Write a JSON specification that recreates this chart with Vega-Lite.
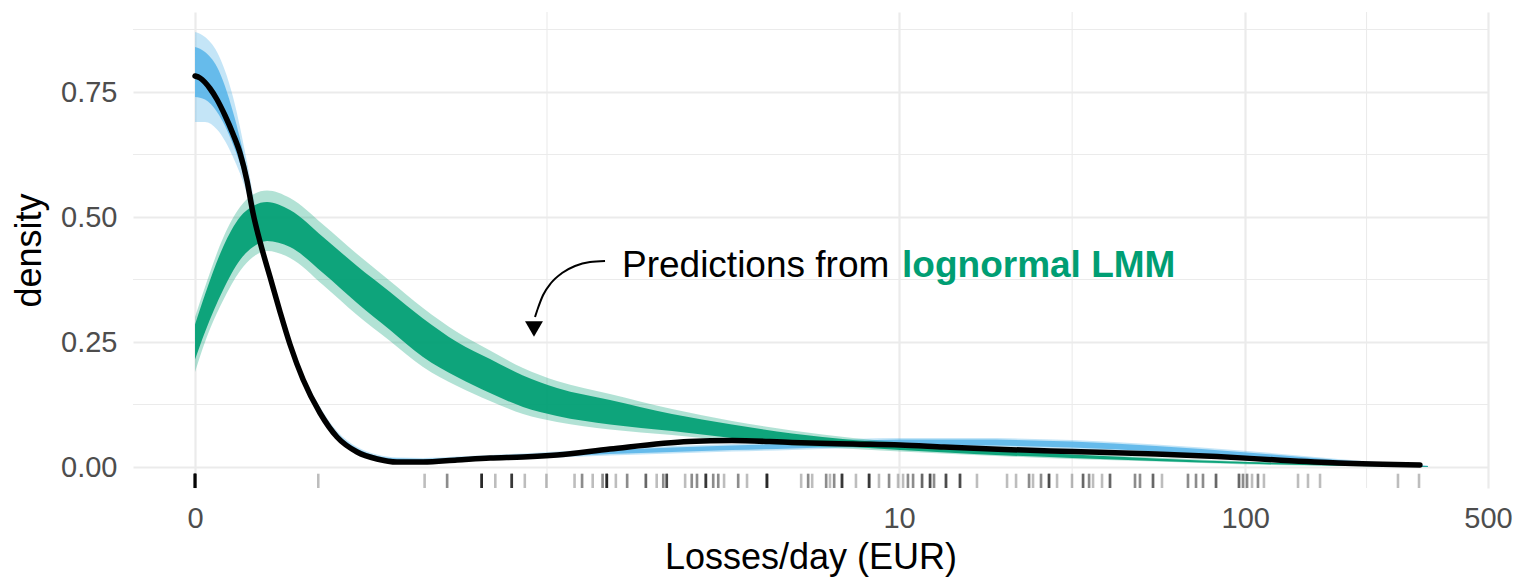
{
  "$schema": "https://vega.github.io/schema/vega-lite/v6.json",
  "width": 1355,
  "height": 476,
  "autosize": {"type": "none"},
  "padding": {"left": 133, "top": 12, "right": 29, "bottom": 93},
  "background": "white",
  "config": {"view": {"stroke": null}, "font": "Liberation Sans"},
  "datasets": {
    "black": [
      {"loss": 0, "density": 0.782}, {"loss": 0.0032, "density": 0.778}, {"loss": 0.0099, "density": 0.757},
      {"loss": 0.0149, "density": 0.735}, {"loss": 0.0209, "density": 0.703}, {"loss": 0.0272, "density": 0.666},
      {"loss": 0.033, "density": 0.628}, {"loss": 0.0391, "density": 0.572}, {"loss": 0.0445, "density": 0.508},
      {"loss": 0.0512, "density": 0.45}, {"loss": 0.0612, "density": 0.38}, {"loss": 0.0719, "density": 0.31},
      {"loss": 0.0833, "density": 0.245}, {"loss": 0.0994, "density": 0.175}, {"loss": 0.1225, "density": 0.108},
      {"loss": 0.1484, "density": 0.06}, {"loss": 0.183, "density": 0.03}, {"loss": 0.2224, "density": 0.016},
      {"loss": 0.2673, "density": 0.01}, {"loss": 0.3354, "density": 0.01}, {"loss": 0.4443, "density": 0.014},
      {"loss": 0.576, "density": 0.018}, {"loss": 0.74, "density": 0.02}, {"loss": 0.9511, "density": 0.024},
      {"loss": 1.3914, "density": 0.036}, {"loss": 2.414, "density": 0.051}, {"loss": 3.2405, "density": 0.053},
      {"loss": 4.8707, "density": 0.049}, {"loss": 7.3441, "density": 0.046}, {"loss": 10.062, "density": 0.044},
      {"loss": 13.5, "density": 0.04}, {"loss": 20.14, "density": 0.035}, {"loss": 31.66, "density": 0.031},
      {"loss": 55.31, "density": 0.026}, {"loss": 82.94, "density": 0.021}, {"loss": 123.4, "density": 0.014},
      {"loss": 185.0, "density": 0.008}, {"loss": 318.4, "density": 0.004}
    ],
    "blue": [
      {"loss": 0, "ho": 0.87, "hi": 0.84, "li": 0.74, "lo": 0.69},
      {"loss": 0.0065, "ho": 0.86, "hi": 0.83, "li": 0.735, "lo": 0.69},
      {"loss": 0.0149, "ho": 0.83, "hi": 0.80, "li": 0.71, "lo": 0.675},
      {"loss": 0.0272, "ho": 0.74, "hi": 0.71, "li": 0.645, "lo": 0.62},
      {"loss": 0.0391, "ho": 0.61, "hi": 0.595, "li": 0.56, "lo": 0.545},
      {"loss": 0.0512, "ho": 0.47, "hi": 0.46, "li": 0.445, "lo": 0.435},
      {"loss": 0.0612, "ho": 0.39, "hi": 0.385, "li": 0.375, "lo": 0.37},
      {"loss": 0.0719, "ho": 0.32, "hi": 0.316, "li": 0.306, "lo": 0.30},
      {"loss": 0.0833, "ho": 0.255, "hi": 0.25, "li": 0.243, "lo": 0.238},
      {"loss": 0.0994, "ho": 0.186, "hi": 0.182, "li": 0.175, "lo": 0.17},
      {"loss": 0.1225, "ho": 0.12, "hi": 0.116, "li": 0.108, "lo": 0.104},
      {"loss": 0.1484, "ho": 0.072, "hi": 0.068, "li": 0.062, "lo": 0.058},
      {"loss": 0.183, "ho": 0.04, "hi": 0.037, "li": 0.031, "lo": 0.028},
      {"loss": 0.2224, "ho": 0.025, "hi": 0.022, "li": 0.017, "lo": 0.015},
      {"loss": 0.2673, "ho": 0.019, "hi": 0.017, "li": 0.012, "lo": 0.010},
      {"loss": 0.3354, "ho": 0.018, "hi": 0.016, "li": 0.012, "lo": 0.010},
      {"loss": 0.4443, "ho": 0.021, "hi": 0.019, "li": 0.014, "lo": 0.012},
      {"loss": 0.576, "ho": 0.024, "hi": 0.022, "li": 0.017, "lo": 0.015},
      {"loss": 0.74, "ho": 0.027, "hi": 0.025, "li": 0.019, "lo": 0.017},
      {"loss": 0.9511, "ho": 0.031, "hi": 0.028, "li": 0.021, "lo": 0.019},
      {"loss": 1.3914, "ho": 0.037, "hi": 0.034, "li": 0.026, "lo": 0.023},
      {"loss": 2.1464, "ho": 0.042, "hi": 0.039, "li": 0.030, "lo": 0.027},
      {"loss": 3.2405, "ho": 0.046, "hi": 0.043, "li": 0.034, "lo": 0.031},
      {"loss": 4.8707, "ho": 0.05, "hi": 0.047, "li": 0.037, "lo": 0.034},
      {"loss": 7.3441, "ho": 0.056, "hi": 0.052, "li": 0.041, "lo": 0.038},
      {"loss": 10.062, "ho": 0.058, "hi": 0.055, "li": 0.043, "lo": 0.040},
      {"loss": 16.49, "ho": 0.058, "hi": 0.055, "li": 0.043, "lo": 0.040},
      {"loss": 31.66, "ho": 0.054, "hi": 0.051, "li": 0.039, "lo": 0.036},
      {"loss": 55.31, "ho": 0.045, "hi": 0.042, "li": 0.031, "lo": 0.028},
      {"loss": 101.2, "ho": 0.032, "hi": 0.029, "li": 0.019, "lo": 0.017},
      {"loss": 185.0, "ho": 0.016, "hi": 0.014, "li": 0.007, "lo": 0.005},
      {"loss": 335.8, "ho": 0.003, "hi": 0.002, "li": 0.0, "lo": 0.0}
    ],
    "green": [
      {"loss": 0, "ho": 0.30, "hi": 0.285, "li": 0.215, "lo": 0.19},
      {"loss": 0.0065, "ho": 0.36, "hi": 0.345, "li": 0.27, "lo": 0.25},
      {"loss": 0.0194, "ho": 0.458, "hi": 0.44, "li": 0.354, "lo": 0.333},
      {"loss": 0.033, "ho": 0.52, "hi": 0.50, "li": 0.414, "lo": 0.392},
      {"loss": 0.0445, "ho": 0.545, "hi": 0.522, "li": 0.44, "lo": 0.42},
      {"loss": 0.0581, "ho": 0.553, "hi": 0.53, "li": 0.452, "lo": 0.432},
      {"loss": 0.0833, "ho": 0.538, "hi": 0.514, "li": 0.44, "lo": 0.418},
      {"loss": 0.1269, "ho": 0.485, "hi": 0.46, "li": 0.388, "lo": 0.364},
      {"loss": 0.183, "ho": 0.426, "hi": 0.402, "li": 0.328, "lo": 0.304},
      {"loss": 0.2509, "ho": 0.372, "hi": 0.35, "li": 0.274, "lo": 0.252},
      {"loss": 0.3354, "ho": 0.318, "hi": 0.297, "li": 0.22, "lo": 0.2},
      {"loss": 0.4443, "ho": 0.27, "hi": 0.25, "li": 0.18, "lo": 0.162},
      {"loss": 0.576, "ho": 0.233, "hi": 0.216, "li": 0.148, "lo": 0.132},
      {"loss": 0.74, "ho": 0.198, "hi": 0.183, "li": 0.12, "lo": 0.106},
      {"loss": 0.9511, "ho": 0.172, "hi": 0.158, "li": 0.102, "lo": 0.09},
      {"loss": 1.3914, "ho": 0.146, "hi": 0.134, "li": 0.085, "lo": 0.075},
      {"loss": 2.1464, "ho": 0.116, "hi": 0.106, "li": 0.072, "lo": 0.064},
      {"loss": 3.2405, "ho": 0.092, "hi": 0.085, "li": 0.058, "lo": 0.052},
      {"loss": 4.8707, "ho": 0.073, "hi": 0.067, "li": 0.048, "lo": 0.043},
      {"loss": 7.3441, "ho": 0.058, "hi": 0.054, "li": 0.040, "lo": 0.036},
      {"loss": 10.062, "ho": 0.049, "hi": 0.046, "li": 0.034, "lo": 0.031},
      {"loss": 16.49, "ho": 0.038, "hi": 0.035, "li": 0.026, "lo": 0.024},
      {"loss": 31.66, "ho": 0.027, "hi": 0.025, "li": 0.018, "lo": 0.016},
      {"loss": 55.31, "ho": 0.019, "hi": 0.017, "li": 0.012, "lo": 0.011},
      {"loss": 101.2, "ho": 0.011, "hi": 0.010, "li": 0.0065, "lo": 0.005},
      {"loss": 185.0, "ho": 0.006, "hi": 0.0055, "li": 0.0025, "lo": 0.002},
      {"loss": 335.8, "ho": 0.002, "hi": 0.0015, "li": 0.0005, "lo": 0.0}
    ],
    "rug": [
      {"loss": 0}, {"loss": 0}, {"loss": 0}, {"loss": 0}, {"loss": 0}, {"loss": 0}, {"loss": 0}, {"loss": 0}, {"loss": 0}, {"loss": 0}, {"loss": 0}, {"loss": 0},
      {"loss": 0.12}, {"loss": 0.34}, {"loss": 0.41}, {"loss": 0.41},
      {"loss": 0.54}, {"loss": 0.54}, {"loss": 0.54}, {"loss": 0.54}, {"loss": 0.54}, {"loss": 0.54},
      {"loss": 0.6},
      {"loss": 0.68}, {"loss": 0.68}, {"loss": 0.68}, {"loss": 0.68}, {"loss": 0.68},
      {"loss": 0.75}, {"loss": 0.88}, {"loss": 1.08}, {"loss": 1.14}, {"loss": 1.14}, {"loss": 1.23}, {"loss": 1.32}, {"loss": 1.32},
      {"loss": 1.36}, {"loss": 1.36}, {"loss": 1.36}, {"loss": 1.36}, {"loss": 1.36}, {"loss": 1.36},
      {"loss": 1.45}, {"loss": 1.57}, {"loss": 1.57}, {"loss": 1.79}, {"loss": 1.79}, {"loss": 1.79}, {"loss": 1.93},
      {"loss": 2.02}, {"loss": 2.02}, {"loss": 2.07}, {"loss": 2.07}, {"loss": 2.07}, {"loss": 2.07},
      {"loss": 2.35}, {"loss": 2.46}, {"loss": 2.46}, {"loss": 2.55}, {"loss": 2.55},
      {"loss": 2.71}, {"loss": 2.71}, {"loss": 2.71}, {"loss": 2.71}, {"loss": 2.71},
      {"loss": 2.85}, {"loss": 2.85}, {"loss": 2.95}, {"loss": 2.95}, {"loss": 3.07}, {"loss": 3.38}, {"loss": 3.38}, {"loss": 3.59},
      {"loss": 4.11}, {"loss": 4.11}, {"loss": 4.11}, {"loss": 4.11}, {"loss": 4.11}, {"loss": 4.11},
      {"loss": 5.18}, {"loss": 5.43}, {"loss": 5.43}, {"loss": 5.58}, {"loss": 6.13}, {"loss": 6.13}, {"loss": 6.29}, {"loss": 6.47}, {"loss": 6.47},
      {"loss": 6.82}, {"loss": 6.82}, {"loss": 6.82}, {"loss": 6.82}, {"loss": 6.82},
      {"loss": 7.49},
      {"loss": 8.18}, {"loss": 8.18}, {"loss": 8.18}, {"loss": 8.18}, {"loss": 8.18},
      {"loss": 8.74}, {"loss": 9.35}, {"loss": 9.35}, {"loss": 9.93}, {"loss": 10.27}, {"loss": 10.61}, {"loss": 10.61}, {"loss": 10.98}, {"loss": 10.98},
      {"loss": 11.66}, {"loss": 11.66}, {"loss": 11.66},
      {"loss": 12.3}, {"loss": 12.3}, {"loss": 12.3}, {"loss": 12.3}, {"loss": 12.63}, {"loss": 12.63},
      {"loss": 13.68}, {"loss": 13.68}, {"loss": 13.68}, {"loss": 13.68},
      {"loss": 15.02}, {"loss": 15.02}, {"loss": 15.02}, {"loss": 15.02},
      {"loss": 16.82}, {"loss": 20.55}, {"loss": 21.82}, {"loss": 23.79}, {"loss": 23.79}, {"loss": 24.43}, {"loss": 25.76}, {"loss": 25.76},
      {"loss": 27.17}, {"loss": 27.17}, {"loss": 27.17}, {"loss": 27.17},
      {"loss": 28.66}, {"loss": 31.66}, {"loss": 34.07}, {"loss": 34.07}, {"loss": 34.07}, {"loss": 35.46}, {"loss": 35.46}, {"loss": 36.41}, {"loss": 38.65},
      {"loss": 40.75}, {"loss": 40.75}, {"loss": 40.75}, {"loss": 48.11}, {"loss": 48.11}, {"loss": 49.73}, {"loss": 49.73},
      {"loss": 54.22}, {"loss": 54.22}, {"loss": 54.22}, {"loss": 57.55}, {"loss": 68.39}, {"loss": 68.39}, {"loss": 72.13}, {"loss": 72.13}, {"loss": 75.55}, {"loss": 75.55},
      {"loss": 82.37}, {"loss": 82.37}, {"loss": 82.37}, {"loss": 95.93}, {"loss": 95.93}, {"loss": 95.93}, {"loss": 98.51}, {"loss": 98.51},
      {"loss": 101.2}, {"loss": 101.2}, {"loss": 104.6}, {"loss": 108.8}, {"loss": 108.8}, {"loss": 113.2},
      {"loss": 141.9}, {"loss": 151.6}, {"loss": 164.2}, {"loss": 275.3}, {"loss": 316.5}
    ],
    "arrow": [
      {"loss": 1.343, "density": 0.412, "o": 1}, {"loss": 1.2069, "density": 0.41, "o": 2},
      {"loss": 1.0837, "density": 0.402, "o": 3}, {"loss": 0.9864, "density": 0.388, "o": 4},
      {"loss": 0.9104, "density": 0.368, "o": 5}, {"loss": 0.859, "density": 0.344, "o": 6},
      {"loss": 0.8273, "density": 0.318, "o": 7}, {"loss": 0.8092, "density": 0.3, "o": 8}
    ]
  },
  "layer": [
    {
      "data": {"values": [{"loss": 0.884}, {"loss": 31.69}, {"loss": 223.5}]},
      "mark": {"type": "rule", "color": "#EBEBEB", "strokeWidth": 1.1},
      "encoding": {
        "x": {"field": "loss", "type": "quantitative", "title": "Losses/day (EUR)",
          "scale": {"type": "symlog", "constant": 0.095, "domain": [-0.0483, 500], "nice": false, "zero": false},
          "axis": {"values": [0, 10, 100, 500], "format": "d", "grid": true, "gridColor": "#EBEBEB", "gridWidth": 2.2,
            "domain": false, "ticks": false, "labelFontSize": 29, "labelColor": "#4D4D4D", "labelPadding": 16,
            "labelFlush": false, "labelOverlap": false, "titleFontSize": 36, "titleFontWeight": "normal", "titleColor": "black", "titlePadding": 7}}
      }
    },
    {
      "data": {"values": [{"density": 0.125}, {"density": 0.375}, {"density": 0.625}, {"density": 0.875}]},
      "mark": {"type": "rule", "color": "#EBEBEB", "strokeWidth": 1.1},
      "encoding": {
        "y": {"field": "density", "type": "quantitative", "title": "density",
          "scale": {"domain": [-0.042, 0.91], "nice": false, "zero": false},
          "axis": {"values": [0, 0.25, 0.5, 0.75], "format": ".2f", "grid": true, "gridColor": "#EBEBEB", "gridWidth": 2.2,
            "domain": false, "ticks": false, "labelFontSize": 29, "labelColor": "#4D4D4D", "labelPadding": 16,
            "titleFontSize": 36, "titleFontWeight": "normal", "titleColor": "black", "titlePadding": 12}}
      }
    },
    {
      "data": {"name": "blue"},
      "mark": {"type": "area", "color": "#56B4E9", "opacity": 0.35, "interpolate": "monotone"},
      "encoding": {
        "x": {"field": "loss", "type": "quantitative", "title": "Losses/day (EUR)", "scale": {"type": "symlog", "constant": 0.095, "domain": [-0.0483, 500], "nice": false, "zero": false}},
        "y": {"field": "ho", "type": "quantitative", "title": "density", "scale": {"domain": [-0.042, 0.91], "nice": false, "zero": false}},
        "y2": {"field": "lo"}
      }
    },
    {
      "data": {"name": "blue"},
      "mark": {"type": "area", "color": "#56B4E9", "opacity": 0.85, "interpolate": "monotone"},
      "encoding": {
        "x": {"field": "loss", "type": "quantitative", "title": "Losses/day (EUR)", "scale": {"type": "symlog", "constant": 0.095, "domain": [-0.0483, 500], "nice": false, "zero": false}},
        "y": {"field": "hi", "type": "quantitative", "title": "density", "scale": {"domain": [-0.042, 0.91], "nice": false, "zero": false}},
        "y2": {"field": "li"}
      }
    },
    {
      "data": {"name": "green"},
      "mark": {"type": "area", "color": "#009E73", "opacity": 0.3, "interpolate": "monotone"},
      "encoding": {
        "x": {"field": "loss", "type": "quantitative", "title": "Losses/day (EUR)", "scale": {"type": "symlog", "constant": 0.095, "domain": [-0.0483, 500], "nice": false, "zero": false}},
        "y": {"field": "ho", "type": "quantitative", "title": "density", "scale": {"domain": [-0.042, 0.91], "nice": false, "zero": false}},
        "y2": {"field": "lo"}
      }
    },
    {
      "data": {"name": "green"},
      "mark": {"type": "area", "color": "#009E73", "opacity": 0.92, "interpolate": "monotone"},
      "encoding": {
        "x": {"field": "loss", "type": "quantitative", "title": "Losses/day (EUR)", "scale": {"type": "symlog", "constant": 0.095, "domain": [-0.0483, 500], "nice": false, "zero": false}},
        "y": {"field": "hi", "type": "quantitative", "title": "density", "scale": {"domain": [-0.042, 0.91], "nice": false, "zero": false}},
        "y2": {"field": "li"}
      }
    },
    {
      "data": {"name": "black"},
      "mark": {"type": "line", "color": "black", "strokeWidth": 5.5, "interpolate": "monotone", "strokeCap": "round"},
      "encoding": {
        "x": {"field": "loss", "type": "quantitative", "title": "Losses/day (EUR)", "scale": {"type": "symlog", "constant": 0.095, "domain": [-0.0483, 500], "nice": false, "zero": false}},
        "y": {"field": "density", "type": "quantitative", "title": "density", "scale": {"domain": [-0.042, 0.91], "nice": false, "zero": false}}
      }
    },
    {
      "data": {"name": "rug"},
      "mark": {"type": "rule", "color": "black", "opacity": 0.26, "strokeWidth": 2.6},
      "encoding": {
        "x": {"field": "loss", "type": "quantitative", "title": "Losses/day (EUR)", "scale": {"type": "symlog", "constant": 0.095, "domain": [-0.0483, 500], "nice": false, "zero": false}},
        "y": {"datum": -0.0134, "type": "quantitative", "title": "density", "scale": {"domain": [-0.042, 0.91], "nice": false, "zero": false}},
        "y2": {"datum": -0.042}
      }
    },
    {
      "data": {"name": "arrow"},
      "mark": {"type": "line", "color": "black", "strokeWidth": 2, "interpolate": "monotone"},
      "encoding": {
        "x": {"field": "loss", "type": "quantitative", "title": "Losses/day (EUR)", "scale": {"type": "symlog", "constant": 0.095, "domain": [-0.0483, 500], "nice": false, "zero": false}},
        "y": {"field": "density", "type": "quantitative", "title": "density", "scale": {"domain": [-0.042, 0.91], "nice": false, "zero": false}},
        "order": {"field": "o"}
      }
    },
    {
      "data": {"values": [{"loss": 0.803, "density": 0.276}]},
      "mark": {"type": "point", "shape": "triangle-down", "filled": true, "color": "black", "opacity": 1, "size": 320},
      "encoding": {
        "x": {"field": "loss", "type": "quantitative", "title": "Losses/day (EUR)", "scale": {"type": "symlog", "constant": 0.095, "domain": [-0.0483, 500], "nice": false, "zero": false}},
        "y": {"field": "density", "type": "quantitative", "title": "density", "scale": {"domain": [-0.042, 0.91], "nice": false, "zero": false}}
      }
    },
    {
      "data": {"values": [{"loss": 1.514, "density": 0.38, "label": "Predictions from"}]},
      "mark": {"type": "text", "align": "left", "baseline": "alphabetic", "fontSize": 37, "color": "black"},
      "encoding": {
        "x": {"field": "loss", "type": "quantitative", "title": "Losses/day (EUR)", "scale": {"type": "symlog", "constant": 0.095, "domain": [-0.0483, 500], "nice": false, "zero": false}},
        "y": {"field": "density", "type": "quantitative", "title": "density", "scale": {"domain": [-0.042, 0.91], "nice": false, "zero": false}},
        "text": {"field": "label"}
      }
    },
    {
      "data": {"values": [{"loss": 10.2, "density": 0.38, "label": "lognormal LMM"}]},
      "mark": {"type": "text", "align": "left", "baseline": "alphabetic", "fontSize": 37, "fontWeight": "bold", "color": "#009E73"},
      "encoding": {
        "x": {"field": "loss", "type": "quantitative", "title": "Losses/day (EUR)", "scale": {"type": "symlog", "constant": 0.095, "domain": [-0.0483, 500], "nice": false, "zero": false}},
        "y": {"field": "density", "type": "quantitative", "title": "density", "scale": {"domain": [-0.042, 0.91], "nice": false, "zero": false}},
        "text": {"field": "label"}
      }
    }
  ]
}
